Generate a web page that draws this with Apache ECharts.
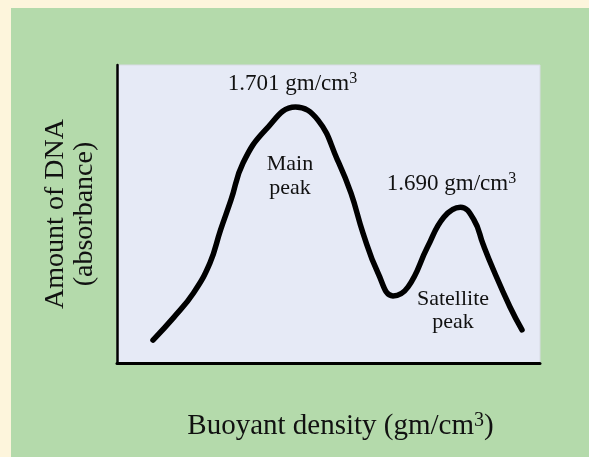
<!DOCTYPE html>
<html>
<head>
<meta charset="utf-8">
<title>Buoyant density of DNA</title>
<script src="https://cdn.jsdelivr.net/npm/echarts@6/dist/echarts.min.js"></script>
<style>
  html, body { margin: 0; padding: 0; background: #fdf5dc; }
  #chart { width: 589px; height: 457px; }
</style>
</head>
<body>
<div id="chart"></div>
<script>
// Density gradient profile: buoyant density (gm/cm3) vs. absorbance (arbitrary units)
const densities = [1.7105, 1.7091, 1.7078, 1.7067, 1.7060, 1.7053, 1.7045, 1.7030,
  1.7010, 1.6995, 1.6982, 1.6973, 1.6965, 1.6955, 1.6945, 1.6935, 1.6922, 1.6911,
  1.6900, 1.6891, 1.6885, 1.6878, 1.6867, 1.6859];
const absorbance = [7.7, 15.4, 23.5, 33.6, 44.6, 54.7, 67.1, 78.2, 85.9, 81.5, 68.1,
  57.0, 43.6, 30.2, 22.5, 25.5, 38.9, 49.0, 52.3, 48.0, 39.9, 31.2, 18.8, 11.1];

// Peak densities that get a value label
const peakDensities = [1.701, 1.690];
const peakNames = ['Main\npeak', 'Satellite\npeak'];

const densityRange = [1.6847, 1.7129];
const absorbanceRange = [0, 100];

const SERIF = '"Liberation Serif", "Times New Roman", serif';
const INK = '#111111';

const supRich = (size, raise) => ({
  t: { fontFamily: SERIF, fontSize: size, color: INK },
  s: { fontFamily: SERIF, fontSize: Math.round(size * 0.68), color: INK, padding: [0, 0, raise, 0] }
});

const lineData = densities.map((d, i) => {
  const item = { value: [d, absorbance[i]] };
  const k = peakDensities.findIndex(p => Math.abs(p - d) < 1e-6);
  if (k >= 0) {
    item.label = {
      show: true,
      position: 'top',
      distance: 11,
      offset: k === 1 ? [-9, 0] : [-3, 0],
      formatter: '{t|' + d.toFixed(3) + ' gm/cm}{s|3}',
      rich: supRich(23, 9)
    };
  }
  return item;
});

const chart = echarts.init(document.getElementById('chart'), null, { renderer: 'canvas' });

chart.setOption({
  backgroundColor: '#fdf5dc',
  animation: false,
  graphic: [
    {
      type: 'rect', z: -100, silent: true,
      shape: { x: 11, y: 8, width: 600, height: 460 },
      style: { fill: '#b4daab' }
    },
    {
      type: 'text', z: 100,
      style: {
        text: peakNames[0], x: 290, y: 152, align: 'center', verticalAlign: 'top',
        font: '22px ' + SERIF, lineHeight: 24, fill: INK
      }
    },
    {
      type: 'text', z: 100,
      style: {
        text: peakNames[1], x: 453, y: 288, align: 'center', verticalAlign: 'top',
        font: '22px ' + SERIF, lineHeight: 23, fill: INK
      }
    }
  ],
  grid: {
    left: 117, top: 65, right: 49, bottom: 94,
    show: true, backgroundColor: '#e6eaf6', borderColor: '#d8dbe4', borderWidth: 1
  },
  xAxis: {
    type: 'value', inverse: true,
    min: densityRange[0], max: densityRange[1],
    name: '{t|Buoyant density (gm/cm}{s|3}{t|)}',
    nameLocation: 'middle', nameGap: 48,
    nameTextStyle: { rich: supRich(29, 11), padding: [0, 0, 0, 24] },
    axisLine: { show: true, onZero: false, lineStyle: { color: '#000', width: 3 } },
    axisTick: { show: false }, axisLabel: { show: false }, splitLine: { show: false }
  },
  yAxis: {
    type: 'value',
    min: absorbanceRange[0], max: absorbanceRange[1],
    name: 'Amount of DNA\n(absorbance)',
    nameLocation: 'middle', nameRotate: 90, nameGap: 18,
    nameTextStyle: { fontFamily: SERIF, fontSize: 28, lineHeight: 29, color: INK },
    axisLine: { show: true, onZero: false, lineStyle: { color: '#000', width: 2.5 } },
    axisTick: { show: false }, axisLabel: { show: false }, splitLine: { show: false }
  },
  series: [{
    type: 'line',
    data: lineData,
    smooth: 0.45,
    showSymbol: true,
    symbol: 'circle',
    symbolSize: 0,
    lineStyle: { color: '#000', width: 5.5, cap: 'round', join: 'round' },
    label: { show: false },
    z: 5
  }]
});
</script>
</body>
</html>
